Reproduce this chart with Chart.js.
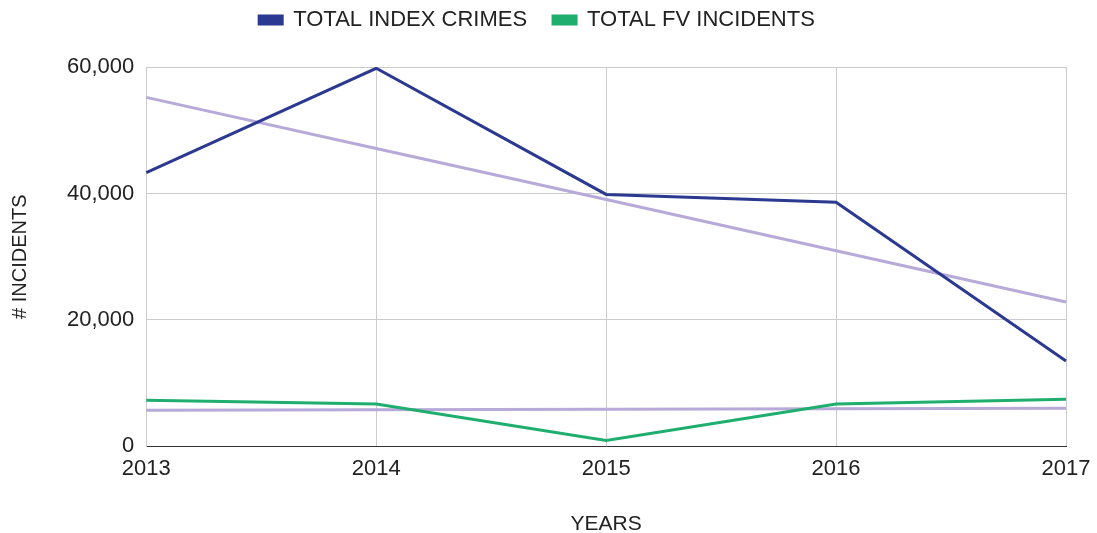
<!DOCTYPE html>
<html>
<head>
<meta charset="utf-8">
<script src="https://cdn.jsdelivr.net/npm/chart.js@4"></script>
<style>
  body { margin: 0; background: #fff; }
  #wrap { width: 1097px; height: 533px; }
</style>
</head>
<body>
<div id="wrap"><canvas id="chart1" width="1097" height="533"></canvas></div>
<script>
// values
const years = ['2013', '2014', '2015', '2016', '2017'];
const indexCrimes = [43300, 59800, 39850, 38600, 13500];
const fvIncidents = [7300, 6700, 950, 6700, 7450];
// trend lines as drawn in the picture
const indexTrend = [55200, 47100, 39050, 30950, 22850];
const fvTrend = [5700, 5780, 5860, 5950, 6030];

const family = 'Arial, "Liberation Sans", sans-serif';
const tickFont = { family, size: 22 };
const legendFont = { family, size: 22 };

// extra room under the legend
const legendMargin = {
    id: 'legendMargin',
    beforeInit(chart) {
        const fit = chart.legend.fit;
        chart.legend.fit = function () {
            fit.bind(chart.legend)();
            this.height += 26;
        };
    }
};

const ctx = document.getElementById('chart1').getContext('2d');
new Chart(ctx, {
    type: 'line',
    data: {
        labels: years,
        datasets: [
            { label: 'TOTAL INDEX CRIMES', data: indexCrimes, borderColor: '#2b3990', backgroundColor: '#2b3990', borderWidth: 3 },
            { label: 'TOTAL FV INCIDENTS', data: fvIncidents, borderColor: '#1fae6e', backgroundColor: '#1fae6e', borderWidth: 3 },
            { label: 'trend1', data: indexTrend, borderColor: '#b7aad8', backgroundColor: '#b7aad8', borderWidth: 3 },
            { label: 'trend2', data: fvTrend, borderColor: '#b7aad8', backgroundColor: '#b7aad8', borderWidth: 3 }
        ]
    },
    plugins: [legendMargin],
    options: {
        responsive: false,
        animation: false,
        elements: { point: { radius: 0 }, line: { tension: 0 } },
        layout: { padding: { left: 8, right: 31, top: -17, bottom: -4 } },
        plugins: {
            legend: {
                position: 'top',
                labels: {
                    color: '#222',
                    font: legendFont,
                    boxWidth: 23,
                    boxHeight: 8,
                    padding: 26,
                    filter: item => !item.text.startsWith('trend')
                }
            },
            tooltip: { enabled: false }
        },
        scales: {
            x: {
                offset: false,
                afterFit: scale => { scale.paddingRight = 0; },
                grid: { color: '#cccccc', drawTicks: false },
                border: { color: '#333' },
                ticks: { color: '#222', font: tickFont, padding: 9, maxRotation: 0 },
                title: { display: true, text: 'YEARS', color: '#222', font: { family, size: 21 }, padding: { top: 21, bottom: 0 } }
            },
            y: {
                min: 0,
                max: 60000,
                grid: { color: '#cccccc', drawTicks: false },
                border: { color: '#cccccc' },
                ticks: { stepSize: 20000, color: '#222', font: tickFont, padding: 12 },
                title: { display: true, text: '# INCIDENTS', color: '#222', font: { family, size: 20 }, padding: { top: 0, bottom: 23 } }
            }
        }
    }
});
</script>
</body>
</html>
